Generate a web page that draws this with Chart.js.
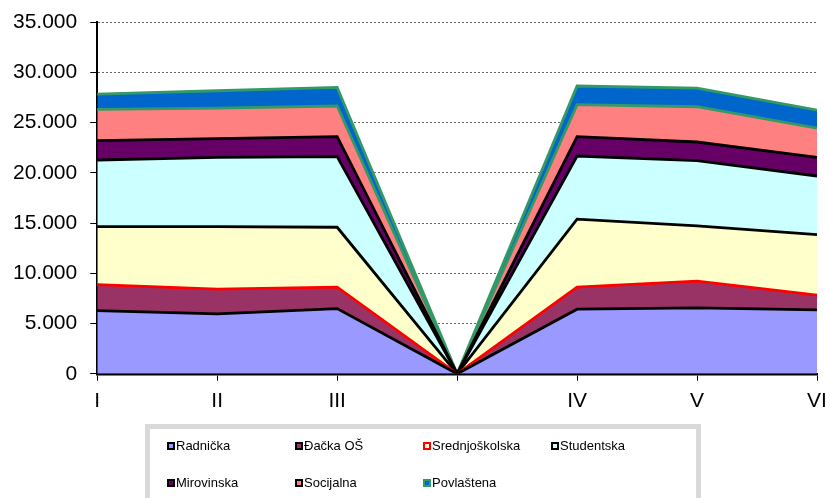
<!DOCTYPE html>
<html>
<head>
<meta charset="utf-8">
<script src="https://cdn.jsdelivr.net/npm/chart.js@4/dist/chart.umd.min.js"></script>
<style>
  html, body { margin: 0; padding: 0; background: #fff; }
  #wrap { width: 825px; height: 498px; }
</style>
</head>
<body>
<div id="wrap"><canvas id="chart"></canvas></div>
<script>
// categories (empty slot between III and IV)
const months = ["I", "II", "III", "", "IV", "V", "VI"];

// series values per category
const radnicka = [6290, 5960, 6490, 0, 6430, 6560, 6360];
const dackaOS = [2590, 2460, 2130, 0, 2190, 2650, 1460];
const srednjoskolska = [5760, 6220, 5960, 0, 6760, 5500, 6030];
const studentska = [6630, 6900, 7020, 0, 6290, 6490, 5830];
const mirovinska = [1920, 1850, 1990, 0, 1920, 1860, 1860];
const socijalna = [3120, 3050, 3050, 0, 3180, 3510, 2910];
const povlastena = [1520, 1720, 1860, 0, 1860, 1860, 1790];

const seriesNames = ["Radnička", "Đačka OŠ", "Srednjoškolska", "Studentska", "Mirovinska", "Socijalna", "Povlaštena"];
const seriesData = [radnicka, dackaOS, srednjoskolska, studentska, mirovinska, socijalna, povlastena];
const fillColors = ["#9999ff", "#993366", "#ffffcc", "#ccffff", "#660066", "#ff8080", "#0066cc"];
// colour of the line seen on top of each band
const topLineColors = ["#000000", "#ff0000", "#000000", "#000000", "#000000", "#339966", "#339966"];
// outline colour of the legend swatch
const legendBorders = ["#000000", "#000000", "#ff0000", "#000000", "#000000", "#000000", "#339966"];

const yTicks = [0, 5000, 10000, 15000, 20000, 25000, 30000, 35000];

const FONT = "'Liberation Sans', Arial, sans-serif";

// legend in a grey framed box, laid out in 4 columns
const boxLegend = {
  id: "boxLegend",
  afterDraw(chart) {
    const ctx = chart.ctx;
    ctx.save();
    ctx.strokeStyle = "#d9d9d9";
    ctx.lineWidth = 5;
    ctx.beginPath();
    ctx.moveTo(147.5, 510);
    ctx.lineTo(147.5, 426.5);
    ctx.lineTo(698.5, 426.5);
    ctx.lineTo(698.5, 510);
    ctx.stroke();

    ctx.font = "13px " + FONT;
    ctx.textBaseline = "middle";
    ctx.fillStyle = "#000";
    chart.data.datasets.forEach((ds, i) => {
      const col = i % 4, row = Math.floor(i / 4);
      const x = 167 + col * 128;
      const y = 446 + row * 37;
      ctx.fillStyle = legendBorders[i];
      ctx.fillRect(x, y - 4, 8, 8);
      ctx.fillStyle = fillColors[i];
      ctx.fillRect(x + 2, y - 2, 4, 4);
      ctx.fillStyle = "#000";
      ctx.fillText(ds.label, x + 9, y);
    });
    ctx.restore();
  }
};

const datasets = seriesNames.map((name, i) => ({
  label: name,
  data: seriesData[i],
  backgroundColor: fillColors[i],
  borderColor: topLineColors[i],
  borderWidth: 2.8,
  fill: i === 0 ? "origin" : "-1",
  pointRadius: 0,
  tension: 0
}));

new Chart(document.getElementById("chart"), {
  type: "line",
  data: { labels: months, datasets: datasets },
  options: {
    responsive: true,
    maintainAspectRatio: false,
    animation: false,
    layout: { padding: { left: 0, top: 22, right: 0, bottom: 76 } },
    plugins: {
      legend: { display: false },
      tooltip: { enabled: false }
    },
    scales: {
      x: {
        offset: false,
        // let the last label "VI" run off the right edge like the original
        afterFit: (scale) => { scale.paddingRight = 8; },
        grid: { drawOnChartArea: false, drawTicks: true, tickLength: 7, color: "#000" },
        border: { display: true, color: "#000", width: 2.5 },
        ticks: { color: "#000", font: { family: FONT, size: 21 }, padding: 8, maxRotation: 0, autoSkip: false }
      },
      y: {
        stacked: true,
        min: 0,
        max: 35000,
        afterFit: (scale) => { scale.paddingTop = 0; },
        afterBuildTicks: (scale) => { scale.ticks = yTicks.map(v => ({ value: v })); },
        grid: { color: "#666", lineWidth: 1, tickLength: 7, tickColor: "#000", tickBorderDash: [] },
        border: { display: true, color: "#000", width: 2, dash: [2, 2] },
        ticks: {
          color: "#000",
          font: { family: FONT, size: 21 },
          padding: 13,
          callback: (v) => v.toString().replace(/\B(?=(\d{3})+(?!\d))/g, ".")
        }
      }
    }
  },
  plugins: [boxLegend]
});
</script>
</body>
</html>
